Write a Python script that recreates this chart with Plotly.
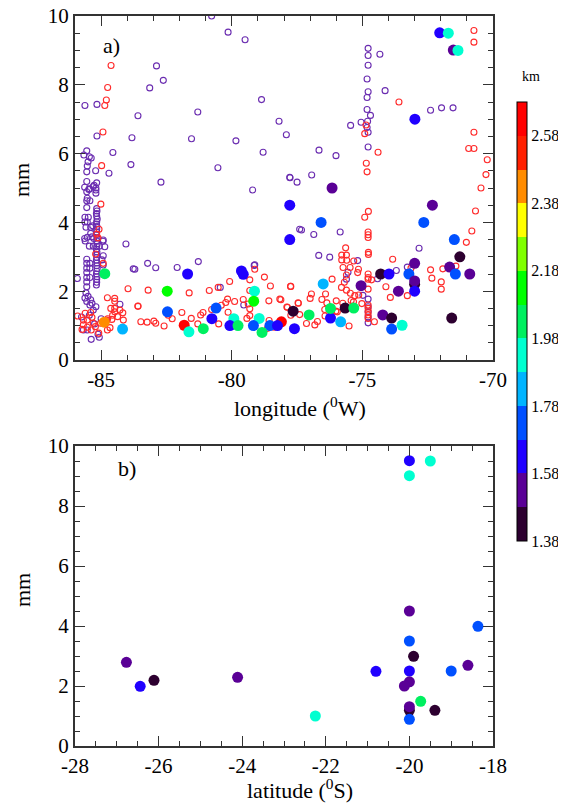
import plotly.graph_objects as go

# open purple circles, top panel (longitude, mm)
purple_lon = [-80.77, -80.14, -79.49, -82.88, -82.62, -83.14, -85.62, -85.16, -83.59, -81.30, -78.86, -78.19,
              -77.91, -85.16, -83.82, -81.54, -79.84, -84.55, -78.80, -83.86, -80.53, -84.70, -82.71, -79.20,
              -77.78,
              -85.55, -85.66, -85.45, -85.38, -85.50, -85.53, -85.55, -85.21, -85.55, -85.17, -85.27, -85.63,
              -85.45, -85.20, -85.47, -85.55, -85.30, -85.20, -85.20, -85.53, -85.55, -85.43, -85.55, -85.62,
              -85.49, -85.62, -85.53, -85.58, -85.40, -85.32, -85.63, -85.53, -84.92, -84.05, -85.40, -85.35,
              -85.28,
              -85.17, -85.16, -85.18, -85.17, -85.15, -85.17, -85.18, -85.16, -85.17, -85.17, -85.18, -85.16,
              -85.17, -85.15, -85.17, -85.18, -85.16, -85.17, -85.17, -85.18, -85.16, -85.17, -85.15, -85.17,
              -85.18, -85.16, -85.17, -85.17, -85.18,
              -85.55, -85.55, -85.55, -85.55, -85.55, -85.55, -85.55, -85.43, -85.43, -85.43,
              -85.61, -85.45, -85.30, -85.07, -84.93, -84.86, -84.97, -84.92, -84.92, -85.91, -83.77,
              -85.58, -85.50, -85.40, -85.35, -85.20, -85.55, -85.43, -85.62, -85.30, -85.45,
              -85.68, -85.53, -85.12, -85.38, -85.07, -84.28, -85.75, -85.25, -85.00,
              -83.22, -82.91, -82.09, -81.28, -83.71, -79.14, -80.44, -79.54, -79.12,
              -76.86, -75.85, -77.33, -77.40, -76.67, -76.25, -75.18, -75.55, -75.61, -74.42, -73.70, -72.83,
              -73.28, -74.98, -74.78, -74.78, -74.78, -74.78, -74.78,
              -74.78, -74.78, -74.33, -74.78, -74.82, -74.78, -74.13, -74.82, -74.82, -74.69, -74.80, -75.05,
              -75.45, -74.82, -74.78, -74.78, -76.66, -76.01, -76.94, -77.77, -77.50, -72.39, -71.97, -71.53]
purple_mm = [10.0, 9.53, 9.31, 8.55, 8.13, 7.91, 7.40, 7.43, 7.10, 7.21, 7.57, 6.94,
             6.55, 6.51, 6.46, 6.43, 6.37, 6.03, 6.04, 5.68, 5.59, 5.43, 5.17, 4.94,
             5.31,
             6.08, 5.96, 5.91, 5.87, 5.76, 5.64, 5.47, 5.50, 5.19, 5.15, 5.08, 5.02,
             4.98, 5.00, 4.96, 4.89, 5.04, 4.94, 4.85, 4.70, 4.63, 4.63, 4.43, 4.15,
             4.15, 4.01, 4.01, 3.86, 3.86, 3.90, 3.53, 3.57, 3.49, 3.37, 3.68, 3.58,
             3.53,
             4.40, 4.33, 4.26, 4.18, 4.10, 4.02, 3.95, 3.88, 3.80, 3.72, 3.64, 3.55,
             3.46, 3.38, 3.30, 3.22, 3.14, 3.06, 2.98, 2.90, 2.82, 2.74, 2.66, 2.58,
             2.50, 2.42, 2.34, 2.26, 2.18,
             2.93, 2.81, 2.67, 2.54, 2.40, 2.27, 2.13, 2.81, 2.67, 2.40,
             3.46, 3.31, 3.31, 3.31, 3.45, 3.29, 2.91, 2.76, 3.03, 2.37, 2.65,
             1.95, 1.85, 1.75, 1.65, 1.55, 1.70, 1.60, 1.80, 1.45, 1.30,
             0.87, 0.87, 0.75, 0.60, 0.66, 1.62, 1.25, 1.05, 1.20,
             2.81, 2.68, 2.69, 2.86, 2.64, 2.75, 2.11, 1.60, 2.77,
             3.65, 3.72, 3.78, 3.80, 3.04, 2.99, 2.89, 2.55, 2.35, 2.36, 2.60, 3.25,
             2.70, 1.88, 1.77, 1.08, 1.40, 1.25, 1.55,
             9.06, 8.85, 8.89, 8.57, 8.17, 7.80, 7.83, 7.63, 7.28, 7.11, 6.94, 6.91,
             6.82, 6.76, 6.62, 6.19, 6.10, 5.94, 5.38, 5.30, 5.17, 7.26, 7.33, 7.33]

# open red circles, top panel (longitude, mm)
red_lon = [-84.62, -84.75, -84.80, -84.86, -84.93, -84.98, -70.73, -70.73, -73.60, -74.86, -74.91, -70.73,
           -70.93, -70.73, -70.22, -74.40, -74.85, -74.82, -70.27, -70.46,
           -74.77, -74.91, -74.78, -74.78, -74.78, -75.64,
           -70.67, -70.81, -71.02, -71.42, -71.92, -72.39, -72.34, -71.98, -71.98, -73.14, -73.84, -74.10,
           -73.93, -73.28,
           -74.77, -74.77, -75.79, -75.61, -75.79, -75.60, -75.33, -75.47, -75.74, -75.61, -75.69, -75.80,
           -75.61, -75.46, -75.15, -74.78, -74.78, -74.78, -74.65, -74.78, -74.78, -74.78, -74.78, -74.78,
           -74.78, -74.54, -75.18,
           -76.16, -76.41, -76.55, -76.95, -77.00, -77.75, -78.16, -77.89, -77.45, -77.40, -77.14, -76.82,
           -76.72, -76.43, -76.00, -75.96, -75.75, -75.51, -75.34, -75.02, -75.14, -75.29,
           -79.12, -78.75, -78.52, -79.31, -77.74, -78.58, -78.12, -77.46, -77.87, -76.44, -76.02, -76.36,
           -75.43, -79.31, -78.57, -78.63, -78.38, -77.74,
           -83.20, -81.63, -80.86, -80.52, -80.08, -79.31, -83.59, -81.91, -81.19, -81.10, -80.77, -80.40,
           -80.23, -80.16, -79.89, -79.56, -79.37, -82.28, -82.43, -81.55, -81.30, -83.48, -83.24, -82.98,
           -82.91, -82.59, -80.14, -80.50, -79.42, -79.31,
           -85.01, -85.08, -85.17, -85.12, -85.21, -84.92, -83.97, -83.59, -84.76, -84.48, -84.48, -84.63,
           -84.48, -84.28, -84.17, -84.48, -84.56, -84.37, -84.15, -84.59, -84.79, -85.61, -85.68, -85.53,
           -85.40, -85.35, -85.30, -85.68, -85.53, -85.73, -85.38, -85.22, -85.02, -85.09, -84.76, -84.66,
           -84.75, -85.90]
red_mm = [8.56, 7.92, 7.56, 7.40, 6.63, 5.65, 9.58, 9.24, 7.50, 6.83, 6.58, 6.62,
          6.15, 6.15, 5.82, 6.04, 5.72, 5.47, 5.39, 5.00,
          4.32, 4.15, 3.72, 3.64, 3.56, 3.26,
          4.33, 3.75, 3.42, 2.73, 2.65, 2.62, 2.38, 2.27, 2.06, 2.67, 2.93, 2.13,
          1.82, 1.87,
          3.13, 3.07, 3.05, 3.05, 2.91, 2.90, 2.88, 2.69, 2.69, 2.47, 2.26, 2.11,
          2.03, 1.94, 2.64, 2.50, 2.40, 2.35, 2.33, 2.06, 1.60, 1.50, 1.40, 1.31,
          1.21, 1.11, 2.54,
          2.35, 1.92, 1.76, 1.92, 1.79, 2.14, 1.77, 1.54, 1.65, 1.32, 1.06, 1.02,
          1.12, 1.28, 1.72, 1.40, 1.65, 0.99, 1.69, 1.64, 1.89, 1.87,
          2.64, 2.41, 2.15, 2.33, 2.14, 1.72, 1.75, 1.66, 1.53, 1.47, 1.42, 1.66,
          1.73, 1.49, 1.15, 0.92, 0.95, 1.30,
          2.03, 1.95, 2.02, 2.11, 2.28, 2.02, 1.57, 1.38, 1.31, 1.38, 1.47, 1.59,
          1.67, 1.77, 1.70, 1.76, 1.63, 1.20, 1.30, 1.21, 1.05, 1.11, 1.10, 1.13,
          1.07, 0.99, 1.39, 1.05, 1.21, 1.29,
          4.53, 3.80, 3.66, 3.55, 3.08, 2.81, 2.07, 1.56, 1.81, 1.79, 1.71, 1.50,
          1.50, 1.45, 1.37, 1.40, 1.30, 1.26, 1.16, 1.18, 1.16, 1.36, 1.16, 1.16,
          1.38, 1.24, 1.07, 1.02, 0.95, 0.89, 0.87, 0.97, 1.07, 0.78, 0.87, 0.94,
          1.20, 1.28]

# filled circles, top panel (longitude, mm, km)
top_lon = [-72.04, -71.71, -71.52, -71.34, -72.99,
           -76.16, -76.58, -77.78, -77.78, -72.32, -72.65, -71.48, -71.27, -71.66, -71.44, -70.89, -73.00,
           -73.22, -74.30, -73.98, -73.00, -73.00, -73.00, -73.62, -75.05, -77.65, -77.04, -76.22, -75.83,
           -76.22, -75.66, -75.33, -76.50, -77.60, -78.10, -74.22, -73.88, -73.88, -73.48, -71.58,
           -79.13, -79.16, -78.95, -79.17, -78.54, -78.25, -78.84,
           -81.69, -79.63, -79.56, -82.47, -82.46, -80.60, -80.76, -81.82, -81.64, -81.09, -79.92, -80.07,
           -79.76, -84.86, -84.88, -84.18]
top_mm = [9.51, 9.50, 9.01, 9.00, 7.00,
          5.00, 4.00, 4.50, 3.50, 4.50, 4.00, 3.50, 3.00, 2.70, 2.50, 2.50, 2.81,
          2.50, 2.50, 2.50, 2.20, 2.30, 2.00, 2.00, 2.16, 1.42, 1.31, 1.22, 1.11,
          1.50, 1.51, 1.51, 2.21, 0.91, 1.11, 1.31, 1.22, 0.90, 1.01, 1.22,
          2.00, 1.71, 1.21, 1.00, 1.00, 1.00, 0.80,
          2.50, 2.59, 2.49, 2.00, 1.40, 1.51, 1.20, 1.01, 0.82, 0.91, 1.20, 1.00,
          1.00, 2.51, 1.10, 0.90]
top_km = [1.62, 1.93, 1.53, 1.93, 1.62,
          1.53, 1.73, 1.62, 1.62, 1.53, 1.73, 1.73, 1.43, 1.53, 1.73, 1.53, 1.53,
          1.73, 1.43, 1.62, 1.43, 1.53, 1.62, 1.53, 1.53, 1.43, 2.03, 1.62, 1.83,
          2.03, 1.43, 2.03, 1.83, 1.62, 2.63, 1.53, 1.43, 1.73, 1.93, 1.43,
          1.93, 2.13, 1.93, 1.73, 1.73, 1.62, 2.03,
          1.62, 1.62, 1.62, 2.13, 1.73, 1.73, 1.62, 2.63, 1.93, 2.03, 1.93, 1.62,
          2.03, 2.03, 2.43, 1.83]

# filled circles, bottom panel (latitude, mm, km)
bot_lat = [-20.0, -19.5, -20.0, -20.0, -18.36, -20.0, -19.9, -18.6, -20.8, -20.0, -19.0, -20.0,
           -20.12, -19.73, -20.0, -20.0, -19.39, -20.0, -22.25, -24.11, -26.77, -26.11, -26.44]
bot_mm = [9.51, 9.50, 9.01, 4.50, 3.99, 3.50, 2.99, 2.69, 2.49, 2.50, 2.50, 2.14,
          2.00, 1.49, 1.19, 1.31, 1.19, 0.89, 1.00, 2.29, 2.79, 2.19, 1.99]
bot_km = [1.62, 1.93, 1.93, 1.53, 1.73, 1.73, 1.43, 1.53, 1.62, 1.62, 1.73, 1.53,
          1.53, 2.03, 1.43, 1.53, 1.43, 1.73, 1.93, 1.53, 1.53, 1.43, 1.62]

# colour bar: 13 bands of 0.1 km from 1.38 to 2.68
band_colors = ["#2D0030", "#5A0096", "#2000FF", "#0050FF", "#00B4FF", "#00FFD0", "#00F060",
               "#00FF00", "#80FF00", "#FFFF00", "#FF8C00", "#FF2000", "#FF0000"]
cbar_ticks = [1.38, 1.58, 1.78, 1.98, 2.18, 2.38, 2.58]
mm_ticks = [0, 2, 4, 6, 8, 10]

FONT = "Liberation Serif"
# the page body has an 8px margin, so the figure is shrunk by that much
OFF = 8
W, H = 566 - OFF, 804 - OFF
# plot area in screen pixels
L, R, T, B = 75, 493, 16, 746
PW, PH = R - L, B - T


def ypx(a, b):
    # pixel rows (top, bottom) -> domain fraction of the plot area
    return [1 - (b - T) / PH, 1 - (a - T) / PH]


def ax(px):
    return (px - L) / PW


def ay(py):
    return 1 - (py - T) / PH


scale = []
n = len(band_colors)
for i, c in enumerate(band_colors):
    scale.append([i / n, c])
    scale.append([(i + 1) / n, c])

fig = go.Figure()
fig.add_trace(go.Scatter(x=purple_lon, y=purple_mm, mode="markers", xaxis="x", yaxis="y",
                         marker=dict(symbol="circle-open", size=6, color="#6A2CB0", line=dict(width=1.1)),
                         showlegend=False))
fig.add_trace(go.Scatter(x=red_lon, y=red_mm, mode="markers", xaxis="x", yaxis="y",
                         marker=dict(symbol="circle-open", size=6, color="#FF2A2A", line=dict(width=1.1)),
                         showlegend=False))
fig.add_trace(go.Scatter(x=top_lon, y=top_mm, mode="markers", xaxis="x", yaxis="y",
                         marker=dict(size=11, color=top_km, coloraxis="coloraxis", line=dict(width=0)),
                         showlegend=False))
fig.add_trace(go.Scatter(x=bot_lat, y=bot_mm, mode="markers", xaxis="x2", yaxis="y2",
                         marker=dict(size=11, color=bot_km, coloraxis="coloraxis", line=dict(width=0)),
                         showlegend=False))

tickfont = dict(family=FONT, size=21, color="black")
common = dict(ticks="inside", ticklen=10, tickwidth=1.2, tickcolor="#333", mirror="allticks",
              showline=True, linecolor="#333", linewidth=2, showgrid=False, zeroline=False,
              tickfont=tickfont, automargin=False, ticklabeloverflow="allow")
ycommon = dict(range=[0, 10], tickmode="array", tickvals=mm_ticks, ticktext=[str(v) for v in mm_ticks],
               minor=dict(ticks="inside", dtick=0.5, tick0=0, ticklen=5, tickcolor="#333"), **common)

fig.update_layout(
    width=W, height=H, paper_bgcolor="white", plot_bgcolor="white",
    margin=dict(l=L - OFF, r=566 - R, t=T - OFF, b=804 - B),
    xaxis=dict(domain=[0, 1], range=[-86, -70], tickmode="array", tickvals=[-85, -80, -75, -70],
               ticktext=["-85", "-80", "-75", "-70"], anchor="y",
               minor=dict(ticks="inside", dtick=1, tick0=-86, ticklen=5, tickcolor="#333"), **common),
    yaxis=dict(domain=ypx(16, 360), anchor="x", **ycommon),
    xaxis2=dict(domain=[0, 1], range=[-28, -18], tickmode="array", tickvals=[-28, -26, -24, -22, -20, -18],
                ticktext=["-28", "-26", "-24", "-22", "-20", "-18"], anchor="y2",
                minor=dict(ticks="inside", dtick=0.5, tick0=-28, ticklen=5, tickcolor="#333"), **common),
    yaxis2=dict(domain=ypx(446, 746), anchor="x2", **ycommon),
    coloraxis=dict(cmin=1.38, cmax=2.68, colorscale=scale,
                   colorbar=dict(x=ax(517), xanchor="left", y=ay(321.5), yanchor="middle",
                                 len=439 / PH, lenmode="fraction", thickness=10, xpad=0, ypad=0,
                                 outlinecolor="black", outlinewidth=1,
                                 tickmode="array", tickvals=cbar_ticks,
                                 ticktext=["%.2f" % v for v in cbar_ticks], ticks="",
                                 tickfont=dict(family=FONT, size=16, color="black"))),
)

ann = dict(showarrow=False, xref="paper", yref="paper", xanchor="center", yanchor="middle",
           font=dict(family=FONT, size=22, color="black"))

fig.add_annotation(text="a)", x=ax(111), y=ay(45), **ann)
fig.add_annotation(text="b)", x=ax(127), y=ay(469), **ann)
fig.add_annotation(text="longitude (<sup>0</sup>W)", x=ax(300), y=ay(407), **ann)
fig.add_annotation(text="latitude (<sup>0</sup>S)", x=ax(300), y=ay(789), **ann)
fig.add_annotation(text="mm", x=ax(22), y=ay(180), textangle=-90, **ann)
fig.add_annotation(text="mm", x=ax(22), y=ay(590), textangle=-90, **ann)
fig.add_annotation(text="km", x=ax(531), y=ay(76), showarrow=False, xref="paper", yref="paper",
                   xanchor="center", yanchor="middle", font=dict(family=FONT, size=14, color="black"))

fig.write_html("out.html")
